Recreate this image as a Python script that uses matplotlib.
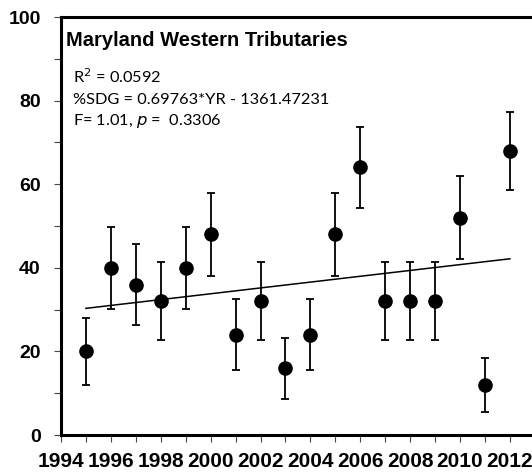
import matplotlib
matplotlib.use('Agg')
import matplotlib.pyplot as plt
from matplotlib.ticker import MultipleLocator

# % SDG por año, con su error
anios = [1995, 1996, 1997, 1998, 1999, 2000, 2001, 2002, 2003,
         2004, 2005, 2006, 2007, 2008, 2009, 2010, 2011, 2012]
sdg = [20, 40, 36, 32, 40, 48, 24, 32, 16,
       24, 48, 64, 32, 32, 32, 52, 12, 68]
err = [8.0, 9.8, 9.6, 9.3, 9.8, 10.0, 8.5, 9.3, 7.3,
       8.5, 10.0, 9.6, 9.3, 9.3, 9.3, 10.0, 6.5, 9.3]

# recta de regresión
pendiente = 0.69763
intercepto = -1361.47231

fig = plt.figure(figsize=(5.32, 4.72), dpi=100)
ax = fig.add_axes([61 / 532, 37 / 472, 471 / 532, 418 / 472])

ax.errorbar(anios, sdg, yerr=err, fmt='o', color='black', ms=9.5,
            elinewidth=1.3, capsize=3, capthick=1.3, zorder=3)

xr = [anios[0], anios[-1]]
ax.plot(xr, [pendiente * x + intercepto for x in xr], color='black', lw=1.1)

ax.set_xlim(1994, 1994 + 471 / 24.94)
ax.set_ylim(0, 100)
ax.set_xticks(range(1994, 2013, 2))
ax.xaxis.set_minor_locator(MultipleLocator(1))
ax.yaxis.set_major_locator(MultipleLocator(20))
ax.yaxis.set_minor_locator(MultipleLocator(10))

for lbl in ax.get_xticklabels():
    lbl.set_fontfamily('Liberation Sans')
    lbl.set_fontweight('bold')
    lbl.set_fontsize(15)
for lbl in ax.get_yticklabels():
    lbl.set_fontfamily('Liberation Sans')
    lbl.set_fontweight('bold')
    lbl.set_fontsize(14)

ax.tick_params(which='both', direction='out', length=5, width=0.8, color='#444444')
ax.tick_params(axis='x', pad=7.5)
ax.tick_params(axis='y', pad=9.5)
ax.spines['right'].set_visible(False)
for s in ['left', 'bottom', 'top']:
    ax.spines[s].set_linewidth(2.2)

ax.text(0.010, 0.93, 'Maryland Western Tributaries', transform=ax.transAxes,
        fontfamily='Liberation Sans', fontweight='bold', fontsize=14.5, va='baseline')
ax.text(0.026, 0.842, 'R$^2$ = 0.0592', transform=ax.transAxes,
        fontfamily='Lato', fontsize=11.8, va='baseline')
ax.text(0.026, 0.792, '%SDG = 0.69763*YR - 1361.47231', transform=ax.transAxes,
        fontfamily='Lato', fontsize=11.8, va='baseline')
ax.text(0.026, 0.742, 'F= 1.01, $\\it{p}$ =  0.3306', transform=ax.transAxes,
        fontfamily='Lato', fontsize=11.8, va='baseline')

fig.savefig('out.png', dpi=100)
